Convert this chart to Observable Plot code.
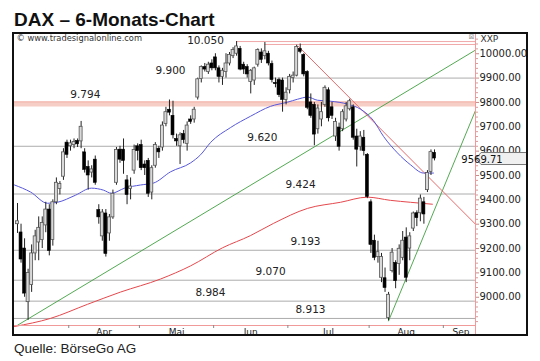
<!DOCTYPE html>
<html><head><meta charset="utf-8">
<script src="https://cdn.jsdelivr.net/npm/d3@7"></script>
<script src="https://cdn.jsdelivr.net/npm/@observablehq/plot@0.6"></script>
<style>
html,body{margin:0;padding:0;background:#fff;width:540px;height:361px;overflow:hidden}
#title{position:absolute;left:14px;top:10px;font:bold 19px/19px "Liberation Sans",Arial,sans-serif;color:#111;white-space:nowrap}
#box{position:absolute;left:12px;top:32px;width:512px;height:300px;border:2px solid #111;overflow:hidden;background:#fff}
#caption{position:absolute;left:14px;top:341px;font:13.5px/15px "Liberation Sans",Arial,sans-serif;color:#222;white-space:nowrap}
</style></head><body>
<div id="title">DAX – 6-Monats-Chart</div>
<div id="box"></div>
<div id="caption">Quelle: BörseGo AG</div>
<script>
// Daily candles, 11 Mar 2014 .. 27 Aug 2014 (trading-day index 0..118)
const open = [9300,9266,9200,8980,9050,9180,9225,9235,9295,9360,9235,9390,9445,9495,9635,9620,9625,9642,9640,9595,9535,9512,9565,9358,9250,9344,9262,9328,9470,9606,9606,9480,9445,9520,9620,9625,9545,9560,9430,9540,9610,9615,9712,9770,9745,9650,9620,9670,9630,9730,9730,9820,9896,9945,9925,9960,9985,9940,9905,9925,9960,9990,10000,10020,9955,9945,9884,9890,9955,10005,9990,10000,9958,9880,9892,9890,9810,9850,9900,9910,10020,9995,9925,9800,9790,9690,9730,9790,9850,9780,9660,9697,9690,9730,9772,9780,9660,9618,9655,9585,9390,9232,9165,9080,9078,8915,9108,9141,9137,9162,9245,9200,9282,9345,9345,9390,9440,9515,9593];
const high = [9385,9300,9240,9115,9215,9275,9330,9330,9390,9380,9400,9490,9475,9610,9645,9645,9650,9650,9722,9610,9560,9540,9580,9380,9360,9360,9340,9440,9615,9620,9650,9500,9490,9625,9630,9645,9560,9570,9540,9635,9620,9720,9780,9810,9805,9670,9675,9685,9720,9745,9780,9900,9950,9960,9965,9975,10000,9950,9940,10000,10005,10025,10050,10030,9965,9955,9935,9945,10020,10020,10046,10010,9970,9900,9900,9900,9860,9915,9925,10035,10040,10000,9930,9835,9800,9790,9800,9868,9860,9800,9735,9715,9770,9800,9813,9790,9690,9680,9685,9590,9400,9255,9230,9180,9120,9020,9200,9150,9215,9270,9285,9265,9350,9355,9420,9410,9520,9605,9605];
const low = [9262,9140,9000,8905,9020,9150,9150,9200,9265,9170,9210,9380,9420,9480,9570,9600,9610,9615,9610,9510,9440,9490,9460,9300,9230,9165,9230,9320,9460,9550,9505,9380,9400,9505,9560,9520,9500,9410,9400,9530,9570,9600,9700,9745,9650,9620,9545,9630,9600,9710,9715,9810,9880,9925,9915,9930,9930,9880,9870,9900,9950,9980,9990,9930,9915,9900,9835,9870,9945,9960,9975,9950,9880,9860,9820,9760,9790,9835,9880,9905,10000,9905,9770,9735,9622,9670,9700,9780,9720,9730,9640,9600,9680,9720,9765,9645,9535,9600,9580,9405,9180,9150,9140,9060,9020,8903,9100,9035,9090,9150,9060,9150,9270,9290,9310,9300,9430,9500,9560];
const close = [9312,9155,9015,9100,9180,9250,9285,9305,9360,9190,9390,9470,9465,9595,9585,9632,9638,9628,9700,9523,9500,9525,9470,9328,9348,9178,9328,9425,9605,9565,9560,9420,9455,9605,9600,9530,9530,9425,9530,9625,9595,9705,9760,9758,9665,9640,9665,9645,9705,9720,9770,9895,9945,9935,9955,9940,9940,9905,9930,9960,9995,10015,10030,9935,9935,9915,9930,9940,10015,9975,10010,9960,9892,9875,9830,9810,9840,9905,9910,10028,10008,9915,9778,9745,9668,9775,9760,9860,9735,9745,9720,9618,9760,9784,9805,9655,9606,9660,9600,9412,9215,9162,9185,9165,9038,9010,9183,9066,9199,9232,9080,9250,9344,9325,9405,9340,9510,9596,9569.71];

// Blue moving average, read at sample points (trading-day index, value)
const blueMaAt  = [-0.85,3.7,8.5,11.3,16.4,20.9,24.3,26.6,30.3,34.8,38.5,43.3,49,51.8,54.6,60.3,65.9,71.6,76.4,79.2,82.1,84.9,88.6,93.4,97.1,100.7,103.6,107.5,111.2,114.9,117.7];
const blueMaVal = [9461,9432,9386,9390,9419,9448,9440,9427,9448,9461,9469,9515,9552,9585,9635,9697,9743,9784,9801,9813,9822,9809,9805,9793,9772,9726,9660,9593,9544,9510,9510];
// Red long moving average
const redMaAt  = [-0.85,9.3,19.8,29.1,40.5,49,58,65.9,72.4,82.1,91.4,99,105.5,111.2,117.4];
const redMaVal = [8880,8913,8971,9021,9075,9129,9203,9253,9303,9365,9390,9411,9398,9390,9382];

// Trend lines (start index, start value, end index, end value)
const greenLongFrom = [0, 8885], greenLongTo = [129.6, 10015];
const greenSteepFrom = [105, 8903], greenSteepTo = [129.6, 9767];
const redTrendFrom = [79.5, 10030], redTrendTo = [129.6, 9300];

// Horizontal levels
const greyLevels = [9900, 9620, 9424, 9193, 9070, 8984, 8913];
const greyLevelFrom = [51.8, null, null, null, null, null, null];
const pinkLevels = [10050, 10038];
const pinkLevelFrom = [62, 70];
const bandLevel = 9794;
const levelLabels = ["10.050","9.900","9.794","9.620","9.424","9.193","9.070","8.984","8.913"];
const levelLabelVal = [10050,9900,9794,9620,9424,9193,9070,8984,8913];
const levelLabelAt = [53.2,43.3,19.2,69.3,80.1,81.5,71.6,54.6,82.9];

// Axes
const yTicks = [9000,9100,9200,9300,9400,9500,9600,9700,9800,9900,10000];
const yMinorTicks = [8900,8920,8940,8960,8980,9020,9040,9060,9080,9120,9140,9160,9180,9220,9240,9260,9280,9320,9340,9360,9380,9420,9440,9460,9480,9520,9540,9560,9580,9620,9640,9660,9680,9720,9740,9760,9780,9820,9840,9860,9880,9920,9940,9960,9980,10020,10040,10060];
const monthBounds = [14.5,34.5,55.5,76.5,99.5,120.5];
const monthLabels = ["Apr","Mai","Jun","Jul","Aug","Sep"];
const monthLabelAt = [24.5,45,66,88,110,125.5];

const xDomain = [-0.85, 129.6];
const yDomain = [8884, 10079];

const candles = close.map((c, i) => ({i, o: open[i], h: high[i], l: low[i], c}));
const up = candles.filter(d => d.c >= d.o);
const down = candles.filter(d => d.c < d.o);
const blueMa = blueMaAt.map((x, k) => ({x, v: blueMaVal[k]}));
const redMa = redMaAt.map((x, k) => ({x, v: redMaVal[k]}));
const seg = (a, b) => [{x: a[0], v: a[1]}, {x: b[0], v: b[1]}];
const greys = greyLevels.map((v, k) => ({v, from: greyLevelFrom[k] ?? xDomain[0]}));
const pinks = pinkLevels.map((v, k) => ({v, from: pinkLevelFrom[k]}));
const labels = levelLabels.map((t, k) => ({t, v: levelLabelVal[k], x: levelLabelAt[k]}));
const labelMap = new Map(monthLabelAt.map((x, k) => [x, monthLabels[k]]));
const last = close[close.length - 1];
const F = "DejaVu Sans, Verdana, sans-serif";

const chart = Plot.plot({
  width: 512, height: 300,
  marginLeft: 0, marginRight: 51, marginTop: 0, marginBottom: 9,
  x: {domain: xDomain},
  y: {domain: yDomain},
  style: {fontFamily: F, fontSize: "10px", background: "#fff", overflow: "visible"},
  marks: [
    Plot.ruleY([bandLevel], {stroke: "#f7cec6", strokeWidth: 5}),
    Plot.ruleY([bandLevel], {stroke: "#f0b0a6", strokeWidth: 1, dy: -2}),
    Plot.ruleY(greys, {y: "v", x1: "from", x2: xDomain[1], stroke: "#acacac", strokeWidth: 1}),
    Plot.ruleY(pinks, {y: "v", x1: "from", x2: xDomain[1], stroke: "#f0a8a8", strokeWidth: 1}),
    Plot.line(redMa, {x: "x", y: "v", stroke: "#e5484d", strokeWidth: 1, curve: "monotone-x"}),
    Plot.line(seg(greenLongFrom, greenLongTo), {x: "x", y: "v", stroke: "#3f9f3f", strokeWidth: 0.9}),
    Plot.line(seg(greenSteepFrom, greenSteepTo), {x: "x", y: "v", stroke: "#3f9f3f", strokeWidth: 0.9}),
    Plot.line(seg(redTrendFrom, redTrendTo), {x: "x", y: "v", stroke: "#e35a5a", strokeWidth: 0.9}),
    Plot.line(blueMa, {x: "x", y: "v", stroke: "#5757dc", strokeWidth: 1, curve: "monotone-x"}),
    Plot.ruleX(candles, {x: "i", y1: "l", y2: "h", stroke: "#222", strokeWidth: 1}),
    Plot.rect(up, {x1: d => d.i - 0.42, x2: d => d.i + 0.42, y1: "o", y2: "c", fill: "#d9d9d9", stroke: "#555", strokeWidth: 0.8}),
    Plot.rect(down, {x1: d => d.i - 0.42, x2: d => d.i + 0.42, y1: "o", y2: "c", fill: "#000", stroke: "#000", strokeWidth: 0.6}),
    Plot.text(labels.filter(d => d.v < 9850), {x: "x", y: "v", text: "t", dy: -9, fill: "#222", fontSize: 10.5}),
    Plot.text(labels.filter(d => d.v === 9900), {x: "x", y: "v", text: "t", dy: -7, fill: "#222", fontSize: 10.5}),
    Plot.text(labels.filter(d => d.v === 10050), {x: "x", y: "v", text: "t", dy: -1, fill: "#222", fontSize: 10.5}),
    Plot.ruleY([yDomain[0]], {stroke: "#f09a9a", strokeWidth: 1}),
    Plot.ruleX([xDomain[1]], {stroke: "#f09a9a", strokeWidth: 1, insetBottom: -9}),
    Plot.axisY({ticks: yMinorTicks, anchor: "right", tickSize: 2, tickFormat: () => "", stroke: "#d99", strokeOpacity: 1}),
    Plot.axisY({ticks: yTicks, anchor: "right", tickSize: 3, tickPadding: 1, tickFormat: d3.format(".2f"), stroke: "#c88", fill: "#222", fontSize: 10}),
    Plot.axisX({ticks: monthBounds, anchor: "bottom", tickSize: 3, tickFormat: () => "", stroke: "#888"}),
    Plot.axisX({ticks: monthLabelAt, anchor: "bottom", tickSize: 0, tickPadding: 3, tickFormat: d => labelMap.get(d), fill: "#222", fontSize: 9}),
    Plot.text(["© www.tradesignalonline.com"], {frameAnchor: "top-left", dx: 2, dy: 1, textAnchor: "start", fontSize: 8.3, fill: "#333"}),
    Plot.text(["XXP"], {frameAnchor: "top-right", dx: 5, dy: 1, textAnchor: "start", fontSize: 9, fill: "#333"}),
    Plot.text(["⊠"], {frameAnchor: "top-right", dx: -4, dy: 0, textAnchor: "middle", fontSize: 7, fill: "#999"}),
    (index, scales, values, dims) => {
      const y = scales.y(last);
      const x0 = dims.width - dims.marginRight;
      const g = d3.create("svg:g");
      g.append("path")
        .attr("d", `M${x0 + 1},${y + 0.5} L${x0 + 6},${y - 5.5} H${x0 + 60} V${y + 6.5} H${x0 + 6} Z`)
        .attr("fill", "#f0f0f0").attr("stroke", "#777").attr("stroke-width", 1).attr("stroke-linejoin", "round");
      g.append("text").attr("x", x0 + 7).attr("y", y + 1).attr("dy", "0.35em")
        .attr("font-size", 10).attr("fill", "#111").text(d3.format(".2f")(last));
      return g.node();
    }
  ]
});
document.getElementById("box").appendChild(chart);
</script>
</body></html>
